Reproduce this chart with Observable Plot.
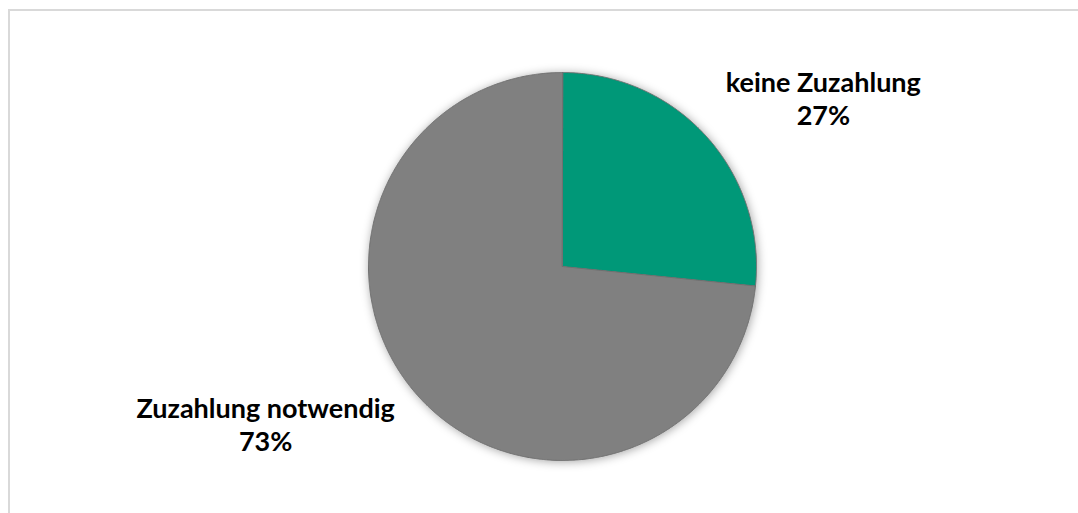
<!DOCTYPE html>
<html>
<head>
<meta charset="utf-8">
<script src="https://cdn.jsdelivr.net/npm/d3@7"></script>
<script src="https://cdn.jsdelivr.net/npm/@observablehq/plot@0.6"></script>
<style>
  html, body { margin: 0; padding: 0; background: #fff; overflow: hidden; }
  #wrap { position: relative; width: 1078px; height: 513px; }
  #frame { position: absolute; left: 8px; top: 9px; width: 2000px; height: 2000px;
           border: 2px solid #d9d9d9; box-sizing: border-box; pointer-events: none; }
  #chart { position: absolute; left: 0; top: 0; }
</style>
</head>
<body>
<div id="wrap"><div id="chart"></div><div id="frame"></div></div>
<script>
// Data
const categories = ["keine Zuzahlung", "Zuzahlung notwendig"];
const values = [26.6, 73.4];
const valueLabels = ["27%", "73%"];
const colors = ["#009878", "#808080"];

// Build slice polygons (angle 0 = top, clockwise)
const total = d3.sum(values);
const slices = [];
const polyPts = [];
let start = 0;
categories.forEach((c, i) => {
  const a0 = start, a1 = start + values[i] / total * 2 * Math.PI;
  start = a1;
  slices.push({category: c, label: c + "\n" + valueLabels[i], mid: (a0 + a1) / 2, i});
  polyPts.push({category: c, x: 0, y: 0});
  const n = Math.max(2, Math.ceil((a1 - a0) / 0.005));
  for (let k = 0; k <= n; k++) {
    const a = a0 + (a1 - a0) * k / n;
    polyPts.push({category: c, x: Math.sin(a), y: Math.cos(a)});
  }
});

const labelR = 1.5;
const labelPts = slices.map(s => ({...s, x: labelR * Math.sin(s.mid), y: labelR * Math.cos(s.mid)}));

const font = "Lato, 'Open Sans', sans-serif";
const plot = Plot.plot({
  width: 1078,
  height: 513,
  marginLeft: 368,
  marginRight: 322,
  marginTop: 72,
  marginBottom: 53,
  x: {domain: [-1, 1], axis: null},
  y: {domain: [-1, 1], axis: null},
  color: {domain: categories, range: colors},
  style: {fontFamily: font, background: "transparent"},
  marks: [
    Plot.line(polyPts, {x: "x", y: "y", z: "category", fill: "category",
      stroke: "#6f6f6f", strokeWidth: 1, curve: "linear-closed"}),
    Plot.text(labelPts.filter(d => d.i === 0), {x: "x", y: "y", text: "label",
      dx: 45, dy: 27, fontSize: 27, fontWeight: "bold", fill: "#000", lineHeight: 1.22}),
    Plot.text(labelPts.filter(d => d.i === 1), {x: "x", y: "y", text: "label",
      dx: -81, dy: -38, fontSize: 27, fontWeight: "bold", fill: "#000", lineHeight: 1.22})
  ]
});

// soft shadow around the pie
const svg = d3.select(plot);
const defs = svg.insert("defs", ":first-child");
const f = defs.append("filter").attr("id", "pieShadow")
  .attr("x", "-20%").attr("y", "-20%").attr("width", "140%").attr("height", "140%");
f.append("feDropShadow").attr("dx", 1).attr("dy", 1).attr("stdDeviation", 5)
  .attr("flood-color", "#000").attr("flood-opacity", 0.35);
svg.selectAll("g[aria-label='line']").attr("filter", "url(#pieShadow)");

document.getElementById("chart").appendChild(plot);
</script>
</body>
</html>
